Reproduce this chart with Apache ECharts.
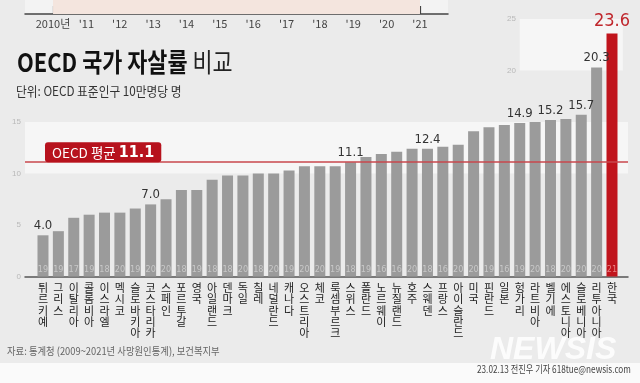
<!DOCTYPE html>
<html><head><meta charset="utf-8">
<script src="https://cdn.jsdelivr.net/npm/echarts@6/dist/echarts.min.js"></script>
<style>html,body{margin:0;padding:0;background:#ebebeb}#c{width:640px;height:383px}</style>
</head><body><div id="c"></div>
<script>
// ---- data ----
const countries = ['튀르키예','그리스','이탈리아','콜롬비아','이스라엘','멕시코','슬로바키아','코스타리카','스페인','포르투갈','영국','아일랜드','덴마크','독일','칠레','네덜란드','캐나다','오스트리아','체코','룩셈부르크','스위스','폴란드','노르웨이','뉴질랜드','호주','스웨덴','프랑스','아이슬란드','미국','핀란드','일본','헝가리','라트비아','벨기에','에스토니아','슬로베니아','리투아니아','한국'];
const rates = [4.0,4.4,5.7,6.0,6.2,6.2,6.6,7.0,7.5,8.4,8.4,9.4,9.8,9.8,10.0,10.0,10.3,10.7,10.7,10.7,11.1,11.6,11.9,12.1,12.4,12.4,12.6,12.8,14.1,14.5,14.7,14.9,15.0,15.2,15.3,15.7,20.3,23.6];
const dataYears = ['19','19','17','19','18','20','19','20','20','18','19','18','18','20','18','20','19','20','20','19','18','19','16','16','20','18','16','20','20','19','16','19','20','18','20','20','20','21'];
const labeledIdx = [0,7,20,25,31,33,35,36,37];
const oecdAvg = 11.1;
const timelineYears = [2010,2011,2012,2013,2014,2015,2016,2017,2018,2019,2020,2021];
const yMax = 25, yStep = 5;

// ---- chart ----
const KOREA = countries.indexOf('한국');
const KR = '"Noto Sans CJK KR", sans-serif';
const NUM = '"Liberation Sans Narrow", "DejaVu Sans Condensed", "Noto Sans CJK KR", sans-serif';
const chart = echarts.init(document.getElementById('c'), null, {renderer: 'canvas'});

const option = {
  backgroundColor: '#ebebeb',
  animation: false,
  grid: [
    {left: 25, right: 12, top: 19, bottom: 106.5},
    {left: 25, right: 192, top: 0, height: 14, show: true, backgroundColor: '#f3f3f3', borderWidth: 0}
  ],
  xAxis: [
    {type: 'value', gridIndex: 0, min: -1.17, max: 38.04,
     axisLine: {show: true, onZero: false, lineStyle: {color: '#555', width: 1.5}},
     axisTick: {show: false}, splitLine: {show: false},
     axisLabel: {customValues: countries.map((_, i) => i),
       formatter: v => countries[v] ? countries[v].split('').join('\n') : '',
       fontFamily: KR, fontSize: 11, lineHeight: 11.2, color: '#222', margin: 6}},
    {type: 'value', gridIndex: 1, min: 2009.16, max: 2021.84,
     axisLine: {show: true, lineStyle: {color: '#444', width: 1.5}},
     axisTick: {show: true, customValues: timelineYears, inside: true, length: 8, lineStyle: {color: '#444', width: 1.2}},
     axisLabel: {customValues: timelineYears, formatter: v => v === 2010 ? '2010년' : "'" + String(v).slice(2),
       fontSize: 11, color: '#444', margin: 4, fontFamily: KR},
     splitLine: {show: false}}
  ],
  yAxis: [
    {type: 'value', gridIndex: 0, min: 0, max: yMax, interval: yStep,
     axisLine: {show: false}, axisTick: {show: false}, splitLine: {show: false},
     axisLabel: {formatter: v => v <= 15 ? String(v) : '', color: '#b8b8b8', fontSize: 8, margin: 4}},
    {type: 'value', gridIndex: 0, min: 0, max: yMax, interval: yStep, position: 'left', offset: -497,
     axisLine: {show: false}, axisTick: {show: false}, splitLine: {show: false},
     axisLabel: {formatter: v => v >= 20 ? String(v) : '', color: '#b8b8b8', fontSize: 8, margin: 6}},
    {type: 'value', gridIndex: 1, min: 0, max: 1, show: false}
  ],
  series: [
    {type: 'scatter', xAxisIndex: 0, yAxisIndex: 0, z: 0, data: [], silent: true,
     markArea: {silent: true, itemStyle: {color: '#f6f6f6'},
       data: [[{yAxis: 10}, {yAxis: 15}], [{xAxis: 31.0, yAxis: 20}, {xAxis: 37.7, yAxis: 25}]]}},
    {type: 'bar', xAxisIndex: 0, yAxisIndex: 0, barWidth: 11, z: 2,
     data: rates.map((v, i) => ({
       value: [i, v],
       itemStyle: {color: i === KOREA ? '#c0141c' : '#9b9b9b'},
       label: Object.assign({show: labeledIdx.includes(i)}, i === KOREA ? {color: '#c0272d', fontSize: 18} : {})
     })),
     label: {show: false, position: 'top', distance: 3, formatter: p => p.value[1].toFixed(1),
       color: '#333', fontSize: 13, fontFamily: NUM},
     markLine: {silent: true, symbol: ['none', 'none'], z: 5,
       lineStyle: {color: '#c9474c', width: 1.5, type: 'solid'},
       data: [{yAxis: oecdAvg}],
       label: {position: 'insideStartTop', distance: [20, 0],
         formatter: '{a|OECD 평균 }{b|' + oecdAvg.toFixed(1) + '}',
         backgroundColor: '#b7121d', borderRadius: 3, padding: [3, 7, 1, 7],
         rich: {a: {color: '#fff', fontSize: 13.5, fontFamily: KR},
                b: {color: '#fff', fontSize: 16, fontWeight: 'bold', fontFamily: NUM}}}}},
    {type: 'scatter', xAxisIndex: 0, yAxisIndex: 0, z: 4, symbolSize: 1, silent: true,
     itemStyle: {color: 'rgba(0,0,0,0)'},
     data: dataYears.map((y, i) => ({value: [i, 0], label: {color: i === KOREA ? '#f29a9a' : '#d3d3d3'}})),
     label: {show: true, position: 'top', distance: 2, formatter: p => dataYears[p.dataIndex], fontSize: 9, fontFamily: NUM}},
    {type: 'scatter', xAxisIndex: 1, yAxisIndex: 2, data: [], silent: true,
     markArea: {silent: true, itemStyle: {color: '#f4e5de'}, data: [[{xAxis: 2010}, {xAxis: 2021}]]}}
  ],
  graphic: [
    {type: 'rect', shape: {x: 0, y: 363, width: 640, height: 20}, style: {fill: '#fafafa'}, z: -1, silent: true},
    {type: 'text', x: 17, y: 49, scaleX: 0.84, silent: true,
     style: {text: '{b|OECD 국가 자살률}{r| 비교}', textVerticalAlign: 'top',
       rich: {b: {fontSize: 26, fontWeight: 'bold', fontFamily: KR, fill: '#111'},
              r: {fontSize: 26, fontFamily: KR, fill: '#222'}}}},
    {type: 'text', x: 16, y: 91, scaleX: 0.9, silent: true,
     style: {text: '단위: OECD 표준인구 10만명당 명', fontSize: 13, fontFamily: KR, fill: '#333', textVerticalAlign: 'middle'}},
    {type: 'text', x: 7, y: 351, scaleX: 0.89, silent: true,
     style: {text: '자료: 통계청 (2009~2021년 사망원인통계), 보건복지부', fontSize: 10.5, fontFamily: KR, fill: '#666', textVerticalAlign: 'middle'}},
    {type: 'text', x: 490, y: 350, silent: true,
     style: {text: 'NEWSIS', fontSize: 32, fontStyle: 'italic', fontWeight: 900, fontFamily: '"Liberation Sans", sans-serif',
       fill: 'rgba(255,255,255,0.85)', textVerticalAlign: 'middle'}},
    {type: 'text', x: 477, y: 369, scaleX: 0.82, silent: true,
     style: {text: '23.02.13 전진우 기자 618tue@newsis.com', fontSize: 10, fontFamily: KR, fill: '#444', textVerticalAlign: 'middle'}}
  ]
};
chart.setOption(option);
</script></body></html>
